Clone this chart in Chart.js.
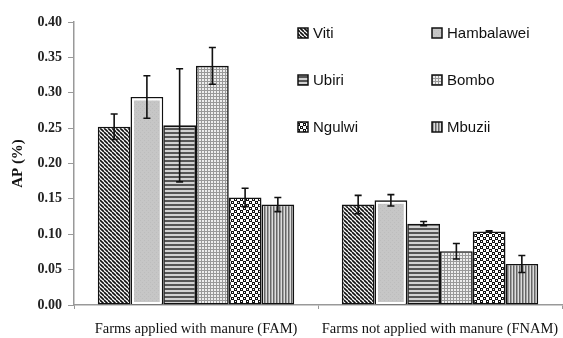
<!DOCTYPE html>
<html>
<head>
<meta charset="utf-8">
<script src="https://cdn.jsdelivr.net/npm/chart.js@4"></script>
<style>
  html, body { margin: 0; padding: 0; background: #fff; }
  #wrap { width: 563px; height: 338px; position: relative; }
</style>
</head>
<body>
<div id="wrap"><canvas id="c" width="563" height="338"></canvas></div>
<script>
// Available phosphorus by farm group
const categories = ['Farms applied with manure (FAM)', 'Farms not applied with manure (FNAM)'];
const farms = ['Viti', 'Hambalawei', 'Ubiri', 'Bombo', 'Ngulwi', 'Mbuzii'];

const viti       = [0.252, 0.142];
const hambalawei = [0.294, 0.148];
const ubiri      = [0.254, 0.115];
const bombo      = [0.338, 0.076];
const ngulwi     = [0.152, 0.104];
const mbuzii     = [0.142, 0.058];

const vitiErr       = [0.018, 0.013];
const hambalaweiErr = [0.030, 0.008];
const ubiriErr      = [0.080, 0.003];
const bomboErr      = [0.026, 0.011];
const ngulwiErr     = [0.013, 0.001];
const mbuziiErr     = [0.010, 0.012];

const yTicks = [0, 0.05, 0.10, 0.15, 0.20, 0.25, 0.30, 0.35, 0.40];

// ---- fill patterns ----
function makePattern(size, draw) {
  const cv = document.createElement('canvas');
  cv.width = size; cv.height = size;
  const g = cv.getContext('2d');
  draw(g, size);
  return g.createPattern(cv, 'repeat');
}
const ctxMain = document.getElementById('c').getContext('2d');

const patDiag = makePattern(4, (g, s) => {
  g.fillStyle = '#fff'; g.fillRect(0, 0, s, s);
  g.strokeStyle = '#111'; g.lineWidth = 1.6;
  for (let k = -1; k <= 1; k++) {
    g.beginPath(); g.moveTo(k * s, 0); g.lineTo(k * s + s, s); g.stroke();
  }
});
const patGray = makePattern(4, (g, s) => {
  g.fillStyle = '#c6c6c6'; g.fillRect(0, 0, s, s);
  g.fillStyle = '#bdbdbd'; g.fillRect(0, 0, 1, 1); g.fillRect(2, 2, 1, 1);
});
const patHoriz = makePattern(4, (g, s) => {
  g.fillStyle = '#d2d2d2'; g.fillRect(0, 0, s, s);
  g.fillStyle = '#555'; g.fillRect(0, 0, s, 2);
});
const patGrid = makePattern(3, (g, s) => {
  g.fillStyle = '#eeeeee'; g.fillRect(0, 0, s, s);
  g.fillStyle = '#999'; g.fillRect(0, 0, s, 1); g.fillRect(0, 0, 1, s);
});
const patDots = makePattern(6, (g, s) => {
  g.fillStyle = '#fff'; g.fillRect(0, 0, s, s);
  g.fillStyle = '#111';
  g.fillRect(0, 0, 3, 3); g.fillRect(3, 3, 3, 3);
  g.fillStyle = '#fff';
  g.fillRect(1, 1, 1, 1); g.fillRect(4, 4, 1, 1);
});
const patVert = makePattern(3, (g, s) => {
  g.fillStyle = '#ddd'; g.fillRect(0, 0, s, s);
  g.fillStyle = '#666'; g.fillRect(0, 0, 1.5, s);
});

const series = [
  { label: farms[0], data: viti,       err: vitiErr,       fill: patDiag },
  { label: farms[1], data: hambalawei, err: hambalaweiErr, fill: patGray, inner: true },
  { label: farms[2], data: ubiri,      err: ubiriErr,      fill: patHoriz },
  { label: farms[3], data: bombo,      err: bomboErr,      fill: patGrid },
  { label: farms[4], data: ngulwi,     err: ngulwiErr,     fill: patDots },
  { label: farms[5], data: mbuzii,     err: mbuziiErr,     fill: patVert },
];

// ---- error bars, Hambalawei inner rim and the two-column key ----
const extras = {
  id: 'extras',
  afterDatasetsDraw(chart) {
    const ctx = chart.ctx;
    const y = chart.scales.y;
    chart.data.datasets.forEach((ds, i) => {
      const meta = chart.getDatasetMeta(i);
      meta.data.forEach((bar, j) => {
        if (ds.inner) {
          const half = bar.width / 2;
          ctx.save();
          ctx.strokeStyle = '#fff'; ctx.lineWidth = 2;
          ctx.strokeRect(bar.x - half + 2.5, bar.y + 2.5, bar.width - 5, bar.base - bar.y - 4);
          ctx.restore();
        }
        const v = ds.data[j], e = ds.err[j];
        const top = y.getPixelForValue(v + e), bot = y.getPixelForValue(v - e);
        ctx.save();
        ctx.strokeStyle = '#111'; ctx.lineWidth = 1.6;
        ctx.beginPath();
        ctx.moveTo(bar.x, top); ctx.lineTo(bar.x, bot);
        ctx.moveTo(bar.x - 3.5, top); ctx.lineTo(bar.x + 3.5, top);
        ctx.moveTo(bar.x - 3.5, bot); ctx.lineTo(bar.x + 3.5, bot);
        ctx.stroke();
        ctx.restore();
      });
    });
  },
  afterDraw(chart) {
    const ctx = chart.ctx;
    const cols = [298, 432], rows = [33, 80, 127];
    ctx.save();
    ctx.font = '15px "Liberation Sans", Arial, sans-serif';
    ctx.textBaseline = 'middle';
    chart.data.datasets.forEach((ds, i) => {
      const x = cols[i % 2], yy = rows[Math.floor(i / 2)];
      ctx.fillStyle = ds.backgroundColor;
      ctx.fillRect(x, yy - 5, 10, 10);
      ctx.strokeStyle = '#111'; ctx.lineWidth = 1.5;
      ctx.strokeRect(x, yy - 5, 10, 10);
      ctx.fillStyle = '#111';
      ctx.fillText(ds.label, x + 15, yy + 1);
    });
    ctx.restore();
  }
};

new Chart(ctxMain, {
  type: 'bar',
  data: {
    labels: categories,
    datasets: series.map(s => ({
      label: s.label,
      data: s.data,
      err: s.err,
      inner: !!s.inner,
      backgroundColor: s.fill,
      borderColor: '#111',
      borderWidth: 1.6,
      borderSkipped: false,
      categoryPercentage: 0.805,
      barPercentage: 1.0
    }))
  },
  options: {
    responsive: false,
    animation: false,
    events: [],
    layout: { padding: { top: 22, right: 1, left: 0, bottom: 0 } },
    plugins: { legend: { display: false }, tooltip: { enabled: false } },
    scales: {
      x: {
        grid: { display: true, drawOnChartArea: false, offset: true, color: '#999', tickLength: 4 },
        border: { color: '#999', width: 1.5 },
        ticks: {
          color: '#111',
          font: { family: '"Liberation Serif", "Times New Roman", serif', size: 14.5 },
          padding: 11,
          maxRotation: 0,
          autoSkip: false
        },
        afterFit(s) { s.height = 33; s.paddingLeft = 0; s.paddingRight = 0; }
      },
      y: {
        min: 0, max: 0.40,
        afterBuildTicks(s) { s.ticks = yTicks.map(v => ({ value: v })); },
        grid: { display: true, drawOnChartArea: false, color: '#999', tickLength: 6 },
        border: { color: '#999', width: 1.5 },
        ticks: {
          color: '#222',
          font: { family: '"Liberation Serif", "Times New Roman", serif', size: 14, weight: 'bold' },
          padding: 6,
          callback: v => v.toFixed(2)
        },
        title: {
          display: true, text: 'AP (%)', color: '#111',
          font: { family: '"Liberation Serif", "Times New Roman", serif', size: 15, weight: 'bold' },
          padding: { top: 9, bottom: 0 }
        },
        afterFit(s) { s.width = 74; s.paddingTop = 0; s.paddingBottom = 0; }
      }
    }
  },
  plugins: [extras]
});
</script>
</body>
</html>
